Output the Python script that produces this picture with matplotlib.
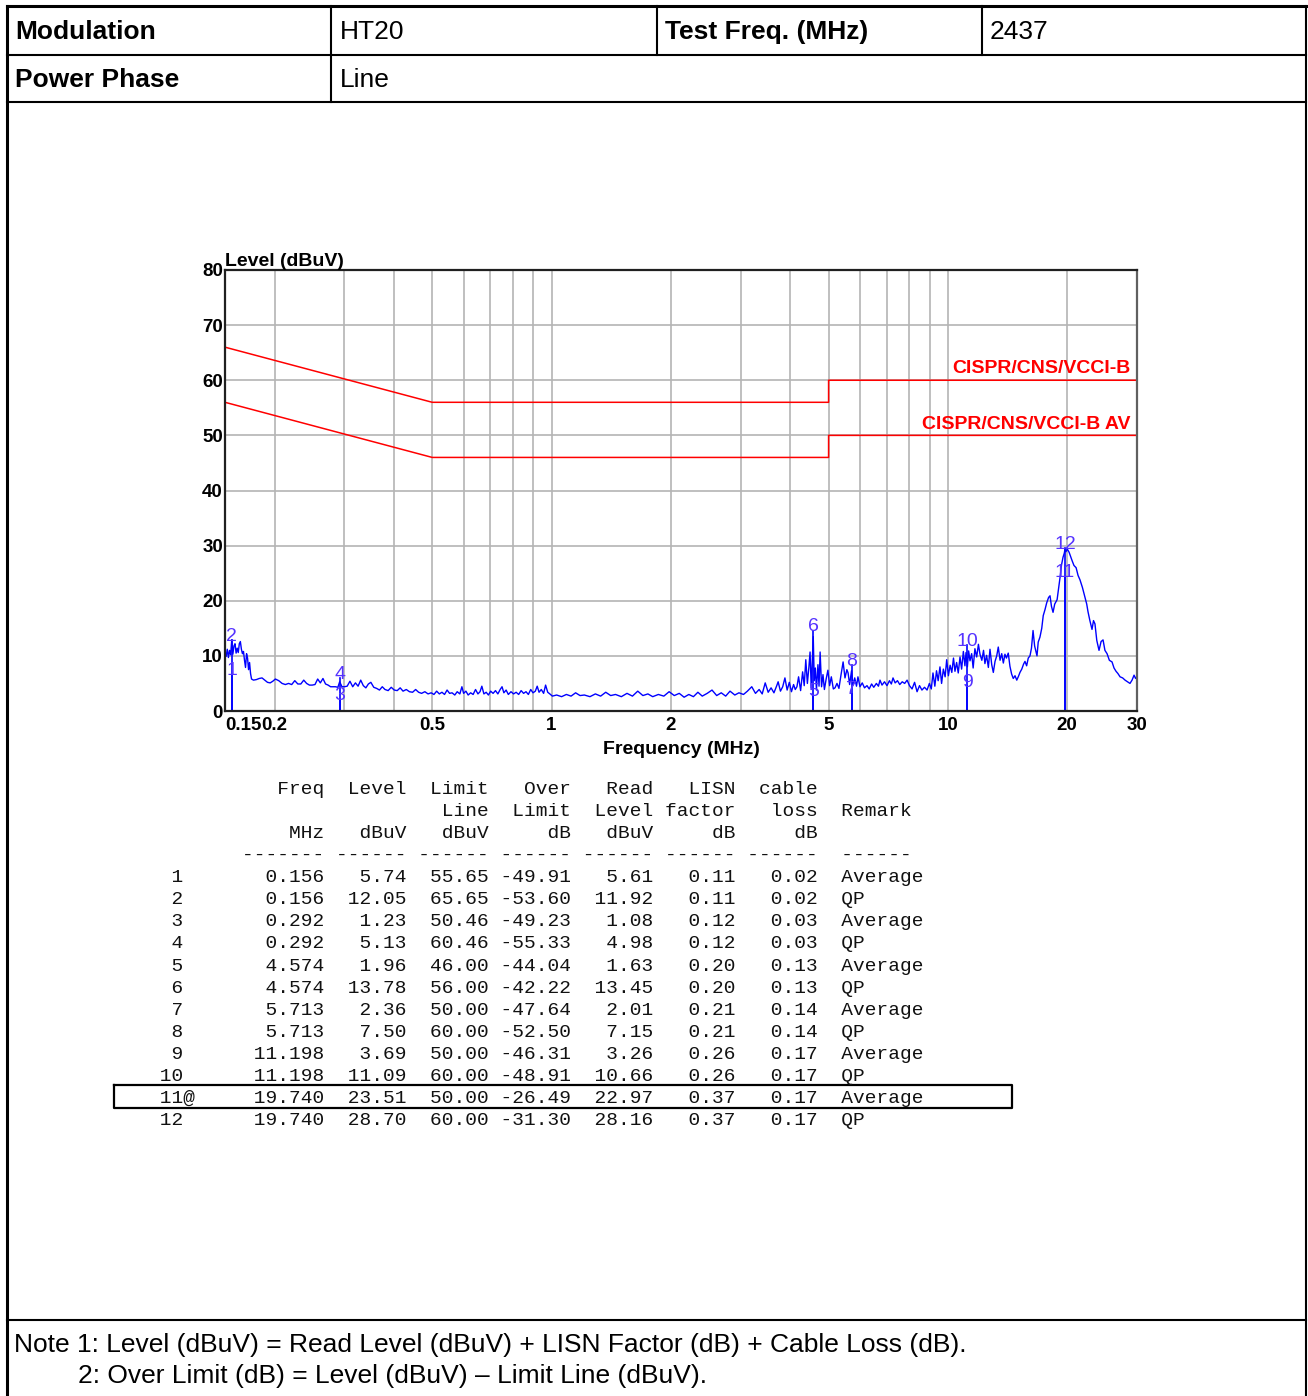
import matplotlib
matplotlib.use('Agg')
import matplotlib.pyplot as plt
from matplotlib.ticker import NullLocator

plt.rcParams['font.family'] = ['Liberation Sans', 'DejaVu Sans']

# ---- header / notes text ----
modulation = "HT20"
test_freq = "2437"
power_phase = "Line"

# ---- limit lines (MHz, dBuV) ----
qp_limit_freq = [0.15, 0.5, 0.5, 5, 5, 30]
qp_limit_level = [66, 56, 56, 56, 60, 60]
av_limit_freq = [0.15, 0.5, 0.5, 5, 5, 30]
av_limit_level = [56, 46, 46, 46, 50, 50]

trace_freq = [
    0.150, 0.151, 0.152, 0.153, 0.154, 0.155, 0.156, 0.157, 0.158, 0.159,
    0.160, 0.161, 0.162, 0.163, 0.164, 0.165, 0.166, 0.167, 0.168, 0.169,
    0.170, 0.171, 0.172, 0.173, 0.174, 0.175, 0.177, 0.180, 0.183, 0.186,
    0.189, 0.192, 0.195, 0.198, 0.201, 0.205, 0.209, 0.213, 0.217, 0.221,
    0.225, 0.229, 0.233, 0.237, 0.241, 0.245, 0.249, 0.253, 0.257, 0.261,
    0.265, 0.269, 0.273, 0.277, 0.281, 0.285, 0.289, 0.292, 0.296, 0.300,
    0.305, 0.310, 0.315, 0.320, 0.325, 0.330, 0.335, 0.340, 0.345, 0.350,
    0.356, 0.362, 0.368, 0.374, 0.380, 0.387, 0.394, 0.401, 0.408, 0.415,
    0.422, 0.430, 0.438, 0.446, 0.454, 0.462, 0.470, 0.479, 0.488, 0.497,
    0.505, 0.513, 0.521, 0.529, 0.537, 0.545, 0.553, 0.561, 0.570, 0.578,
    0.587, 0.594, 0.600, 0.608, 0.616, 0.625, 0.634, 0.643, 0.652, 0.660,
    0.667, 0.675, 0.684, 0.693, 0.702, 0.712, 0.722, 0.732, 0.742, 0.750,
    0.758, 0.768, 0.778, 0.790, 0.802, 0.814, 0.826, 0.838, 0.850, 0.862,
    0.874, 0.886, 0.898, 0.910, 0.920, 0.930, 0.942, 0.955, 0.966, 0.978,
    0.990, 1.005, 1.03, 1.06, 1.09, 1.12, 1.15, 1.18, 1.21, 1.25,
    1.29, 1.33, 1.37, 1.41, 1.45, 1.50, 1.55, 1.60, 1.65, 1.70,
    1.75, 1.80, 1.86, 1.92, 1.98, 2.04, 2.10, 2.16, 2.22, 2.28,
    2.34, 2.40, 2.47, 2.54, 2.61, 2.68, 2.75, 2.82, 2.90, 2.97,
    3.05, 3.12, 3.20, 3.27, 3.34, 3.40, 3.46, 3.52, 3.58, 3.64,
    3.70, 3.73, 3.78, 3.83, 3.88, 3.93, 3.98, 4.03, 4.08, 4.12,
    4.16, 4.20, 4.25, 4.30, 4.34, 4.38, 4.42, 4.46, 4.49, 4.52,
    4.55, 4.574, 4.60, 4.63, 4.66, 4.70, 4.73, 4.76, 4.80, 4.84,
    4.88, 4.93, 4.98, 5.03, 5.08, 5.14, 5.19, 5.25, 5.31, 5.37,
    5.44, 5.50, 5.56, 5.60, 5.65, 5.713, 5.76, 5.82, 5.88, 5.93,
    6.00, 6.08, 6.16, 6.25, 6.33, 6.42, 6.50, 6.60, 6.68, 6.74,
    6.82, 6.92, 7.02, 7.12, 7.20, 7.27, 7.36, 7.46, 7.56, 7.67,
    7.78, 7.89, 8.00, 8.12, 8.24, 8.36, 8.48, 8.60, 8.73, 8.86,
    8.98, 9.08, 9.17, 9.27, 9.36, 9.45, 9.55, 9.64, 9.74, 9.84,
    9.93, 10.03, 10.13, 10.23, 10.33, 10.42, 10.52, 10.62, 10.73, 10.83,
    10.94, 11.04, 11.11, 11.198, 11.28, 11.37, 11.48, 11.58, 11.70, 11.82,
    11.94, 12.05, 12.18, 12.30, 12.40, 12.52, 12.65, 12.77, 12.90, 13.02,
    13.15, 13.28, 13.40, 13.54, 13.67, 13.80, 13.93, 14.05, 14.20, 14.34,
    14.48, 14.62, 14.77, 14.92, 15.07, 15.20, 15.36, 15.52, 15.65, 15.80,
    15.95, 16.11, 16.25, 16.40, 16.55, 16.78, 16.90, 17.07, 17.25, 17.40,
    17.58, 17.75, 17.95, 18.10, 18.25, 18.42, 18.60, 18.86, 19.05, 19.19,
    19.35, 19.52, 19.66, 19.74, 19.86, 20.00, 20.22, 20.40, 20.57, 20.80,
    21.06, 21.30, 21.54, 21.85, 22.18, 22.40, 22.57, 22.80, 23.10, 23.30,
    23.50, 23.75, 24.06, 24.35, 24.63, 24.90, 25.21, 25.55, 25.95, 26.25,
    26.56, 26.85, 27.19, 27.60, 27.99, 28.40, 28.80, 29.15, 29.49, 29.75,
    30.0,
]
trace_level = [
    10.6, 9.9, 11.2, 9.7, 11.0, 10.2, 12.9, 10.3, 11.8, 12.2,
    10.5, 11.4, 10.6, 12.2, 12.6, 11.2, 10.4, 10.8, 9.2, 7.9,
    10.4, 9.6, 7.5, 8.8, 6.8, 5.8, 5.6, 5.7, 5.9, 6.0,
    5.6, 5.2, 5.1, 5.4, 5.8, 5.5, 5.0, 4.8, 5.0, 4.8,
    5.5, 4.9, 4.9, 5.6, 5.0, 4.7, 4.7, 4.8, 5.8, 5.1,
    5.9, 4.9, 4.7, 4.4, 4.4, 4.4, 4.3, 5.3, 4.4, 4.4,
    4.5, 5.4, 4.4, 5.1, 4.5, 5.6, 4.6, 4.2, 4.9, 5.2,
    4.3, 4.1, 3.8, 4.4, 3.9, 3.7, 4.3, 3.8, 3.7, 4.2,
    3.6, 3.9, 3.5, 3.4, 3.9, 3.4, 3.2, 3.5, 3.1, 3.3,
    3.0, 3.6, 3.1, 3.4, 3.0, 3.8, 3.2, 3.3, 2.9, 3.5,
    3.1, 4.4, 3.2, 3.6, 2.9, 3.3, 3.0, 3.9, 3.1, 3.5,
    4.5, 3.1, 3.4, 2.9, 3.6, 3.2, 3.7, 3.1, 3.9, 4.4,
    3.3, 3.8, 3.0, 3.5, 3.1, 3.4, 3.0, 3.7, 3.2, 3.5,
    3.0, 3.9, 3.3, 3.6, 4.5, 3.4, 3.9, 3.2, 4.7, 3.4,
    3.1, 2.7, 2.9, 2.6, 3.0, 2.7, 3.3, 2.8, 2.9, 2.6,
    3.1, 2.7, 3.4, 2.8, 3.0, 2.6, 3.2, 2.7, 3.6, 2.8,
    3.1, 2.6, 3.0, 2.7, 3.5, 2.8, 3.2, 2.5, 3.0, 2.6,
    3.4, 2.7, 3.2, 3.8, 2.8, 3.3, 2.7, 3.6, 2.9, 3.3,
    3.0, 3.6, 4.4, 3.2, 3.9, 3.1, 5.1, 3.4, 4.2, 3.3,
    4.6, 5.3, 3.6, 4.4, 6.0, 3.8, 5.2, 3.5, 4.8, 3.9,
    4.4, 6.2, 3.7, 7.1, 4.6, 9.3, 5.0, 8.0, 10.7, 4.2,
    9.5, 13.5, 5.5, 7.8, 3.8, 8.4, 4.5, 10.7, 4.4, 6.6,
    3.9, 5.8, 7.4, 4.6, 6.2, 4.0, 4.2, 5.0, 4.1, 6.4,
    8.9, 6.0, 7.5, 6.9, 4.8, 7.3, 4.7, 6.0, 4.5, 6.2,
    4.4, 5.1, 4.2, 4.6, 4.0, 4.9, 4.3, 5.0, 4.5, 5.6,
    4.7, 5.3, 4.6, 5.5, 4.9, 6.0, 5.1, 5.5, 4.8, 5.3,
    5.0, 5.6, 4.6, 4.0, 5.2, 3.5, 4.6, 3.8, 4.3, 3.8,
    5.0, 4.0, 6.9, 4.5, 7.3, 5.5, 8.0, 5.0, 7.6, 6.2,
    9.3, 6.4, 8.3, 7.0, 9.6, 7.2, 8.8, 6.9, 9.8, 7.6,
    10.8, 8.2, 10.6, 8.0, 10.9, 9.1, 10.4, 7.8, 11.3, 9.8,
    12.1, 10.3, 9.2, 11.0, 8.6, 10.1, 7.9, 11.2, 8.4, 7.0,
    9.0, 10.0, 11.6, 9.2, 10.4, 8.7, 10.3, 9.6, 10.5, 8.1,
    6.7, 5.9, 6.4, 5.6, 6.3, 7.0, 7.6, 8.5, 9.0, 8.2,
    9.6, 10.0, 11.4, 14.6, 11.8, 10.0, 12.5, 13.4, 15.0, 17.3,
    18.4, 19.6, 20.6, 20.9, 19.0, 17.9, 19.4, 20.2, 22.5, 24.3,
    26.5, 27.9, 28.6, 29.3, 28.9, 29.4, 28.8, 28.0, 27.3, 26.4,
    26.0, 24.6, 23.8, 22.4, 20.6, 19.4, 18.0, 16.5, 14.8, 16.4,
    15.8, 12.8, 11.0, 12.6, 12.9, 11.0, 10.4, 9.2, 8.9, 7.8,
    7.2, 6.8, 6.2, 6.0, 5.6, 5.3, 5.0, 5.6, 6.5, 5.9,
    6.3,
]

# ---- result table ----
mk_no = [1, 2, 3, 4, 5, 6, 7, 8, 9, 10, 11, 12]
mk_freq = [0.156, 0.156, 0.292, 0.292, 4.574, 4.574, 5.713, 5.713, 11.198, 11.198, 19.740, 19.740]
mk_level = [5.74, 12.05, 1.23, 5.13, 1.96, 13.78, 2.36, 7.50, 3.69, 11.09, 23.51, 28.70]
mk_limit = [55.65, 65.65, 50.46, 60.46, 46.00, 56.00, 50.00, 60.00, 50.00, 60.00, 50.00, 60.00]
mk_over = [-49.91, -53.60, -49.23, -55.33, -44.04, -42.22, -47.64, -52.50, -46.31, -48.91, -26.49, -31.30]
mk_read = [5.61, 11.92, 1.08, 4.98, 1.63, 13.45, 2.01, 7.15, 3.26, 10.66, 22.97, 28.16]
mk_lisn = [0.11, 0.11, 0.12, 0.12, 0.20, 0.20, 0.21, 0.21, 0.26, 0.26, 0.37, 0.37]
mk_cable = [0.02, 0.02, 0.03, 0.03, 0.13, 0.13, 0.14, 0.14, 0.17, 0.17, 0.17, 0.17]
mk_remark = ["Average", "QP"] * 6
worst = 11

x_ticks = [0.15, 0.2, 0.5, 1, 2, 5, 10, 20, 30]
x_tick_labels = ["0.15", "0.2", "0.5", "1", "2", "5", "10", "20", "30"]
x_grid = [0.2, 0.3, 0.4, 0.5, 0.6, 0.7, 0.8, 0.9, 1, 2, 3, 4, 5, 6, 7, 8, 9, 10, 20]
y_ticks = [0, 10, 20, 30, 40, 50, 60, 70, 80]

W, H = 1308, 1396
fig = plt.figure(figsize=(W / 100, H / 100), dpi=100)

# page overlay in pixel coordinates
bg = fig.add_axes([0, 0, 1, 1])
bg.set_xlim(0, W)
bg.set_ylim(H, 0)
bg.axis('off')

def seg(x0, y0, x1, y1, lw=1.5):
    bg.plot([x0, x1], [y0, y1], color='black', lw=lw, solid_capstyle='projecting')

seg(7, 6, 1306, 6, 2.2)
seg(7, 55, 1306, 55)
seg(7, 102, 1306, 102)
seg(7, 1320, 1306, 1320)
seg(7, 6, 7, 1396, 2.2)
seg(1306, 6, 1306, 1396, 1.5)
seg(331, 6, 331, 102)
seg(657, 6, 657, 55)
seg(982, 6, 982, 55)

hfs = 19
bg.text(15, 32, "Modulation", fontsize=hfs, fontweight='bold', va='center')
bg.text(340, 32, modulation, fontsize=hfs, va='center')
bg.text(665, 32, "Test Freq. (MHz)", fontsize=hfs, fontweight='bold', va='center')
bg.text(990, 32, test_freq, fontsize=hfs, va='center')
bg.text(15, 80, "Power Phase", fontsize=hfs, fontweight='bold', va='center')
bg.text(340, 80, power_phase, fontsize=hfs, va='center')

bg.text(14, 1345, "Note 1: Level (dBuV) = Read Level (dBuV) + LISN Factor (dB) + Cable Loss (dB).",
        fontsize=hfs, va='center')
bg.text(78, 1376, "2: Over Limit (dB) = Level (dBuV) \u2013 Limit Line (dBuV).",
        fontsize=hfs, va='center')

# monospace result table
lines = [
    f"{'Freq':>15}{'Level':>7}{'Limit':>7}{'Over':>7}{'Read':>7}{'LISN':>7}{'cable':>7}",
    f"{'':>15}{'':>7}{'Line':>7}{'Limit':>7}{'Level':>7}{'factor':>7}{'loss':>7}  Remark",
    f"{'MHz':>15}{'dBuV':>7}{'dBuV':>7}{'dB':>7}{'dBuV':>7}{'dB':>7}{'dB':>7}",
    ' ' * 8 + '-------' + ' ------' * 6 + '  ------',
]
for i in range(len(mk_no)):
    flag = '@' if mk_no[i] == worst else ' '
    lines.append(f" {mk_no[i]:>2}{flag}{mk_freq[i]:>11.3f}{mk_level[i]:>7.2f}{mk_limit[i]:>7.2f}"
                 f"{mk_over[i]:>7.2f}{mk_read[i]:>7.2f}{mk_lisn[i]:>7.2f}{mk_cable[i]:>7.2f}  {mk_remark[i]}")
for i, s in enumerate(lines):
    bg.text(148.3, 794 + 22.07 * i, s, family='Liberation Mono', fontsize=14.0,
            va='baseline', ha='left', color='#111111')
bg.plot([114, 1012, 1012, 114, 114], [1085, 1085, 1108, 1108, 1085], color='black', lw=1.6)

# ---- chart ----
ax = fig.add_axes([225 / W, 1 - 711 / H, 912 / W, 441 / H])
ax.set_xscale('log')
ax.set_xlim(0.15, 30)
ax.set_ylim(0, 80)
ax.xaxis.set_minor_locator(NullLocator())
for g in x_grid:
    ax.axvline(g, color='#b4b4b4', lw=1.2, zorder=0)
for g in y_ticks[1:-1]:
    ax.axhline(g, color='#b4b4b4', lw=1.2, zorder=0)

ax.plot(qp_limit_freq, qp_limit_level, color='#ff0000', lw=1.1)
ax.plot(av_limit_freq, av_limit_level, color='#ff0000', lw=1.1)
ax.annotate("CISPR/CNS/VCCI-B", xy=(30, 60), xytext=(-5, 2), textcoords='offset points',
            ha='right', va='bottom', color='#ff0000', fontsize=14, fontweight='bold')
ax.annotate("CISPR/CNS/VCCI-B AV", xy=(30, 50), xytext=(-5, 2), textcoords='offset points',
            ha='right', va='bottom', color='#ff0000', fontsize=14, fontweight='bold')

ax.plot(trace_freq, trace_level, color='#0000ff', lw=1.0)
for n, f, lv in zip(mk_no, mk_freq, mk_level):
    ax.plot([f, f], [0, lv + 0.8], color='#0000ff', lw=1.2)
    ax.text(f, lv, str(n), ha='center', va='bottom', color='#5533ff', fontsize=14)

ax.set_xticks(x_ticks)
ax.set_xticklabels(x_tick_labels)
ax.set_yticks(y_ticks)
ax.tick_params(length=0, labelsize=13.5, pad=4)
ax.tick_params(axis='y', pad=1.5)
for lbl in ax.get_xticklabels() + ax.get_yticklabels():
    lbl.set_fontweight('bold')
ax.get_xticklabels()[0].set_ha('left')
ax.set_xlabel("Frequency (MHz)", fontsize=14, fontweight='bold', labelpad=5)
ax.text(0, 1.0, "Level (dBuV)", transform=ax.transAxes, ha='left', va='bottom',
        fontsize=14, fontweight='bold')
for side in ['left', 'bottom', 'top']:
    ax.spines[side].set_color('#202020')
    ax.spines[side].set_linewidth(1.6)
ax.spines['right'].set_color('#606060')
ax.spines['right'].set_linewidth(1.6)

fig.savefig('out.png', dpi=100)
